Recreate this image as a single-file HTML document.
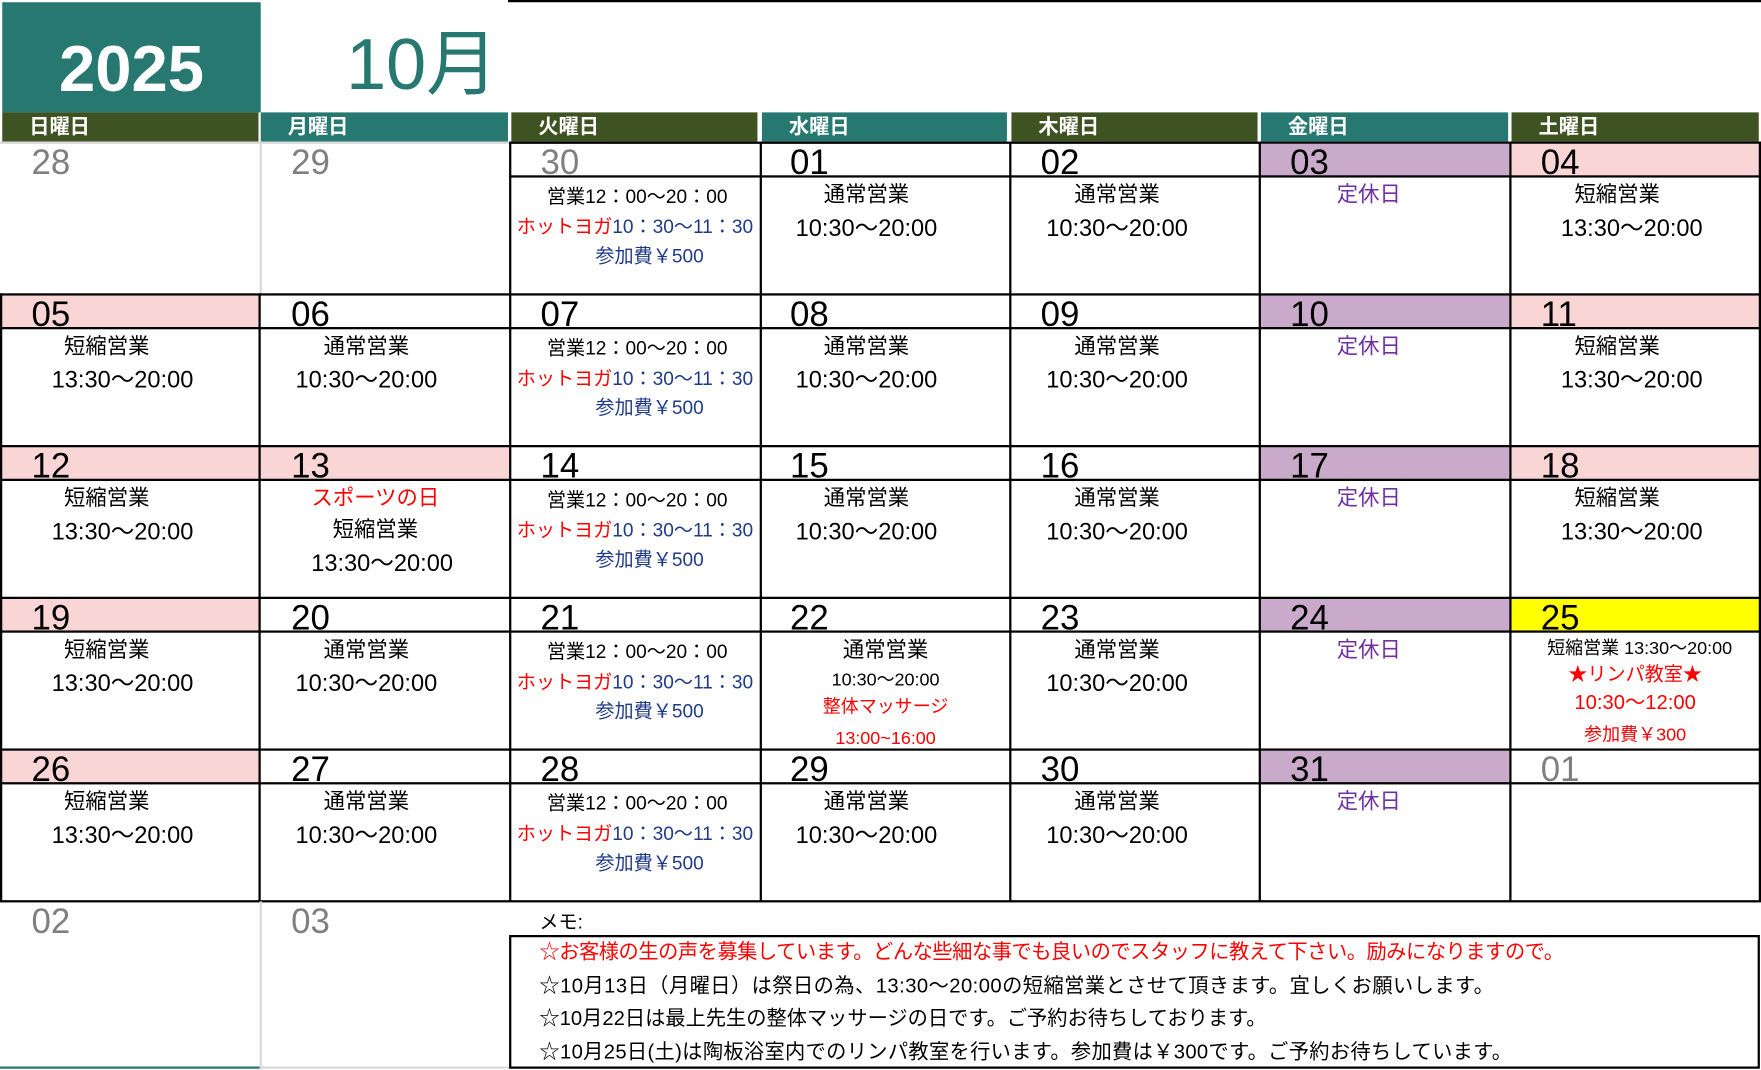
<!DOCTYPE html>
<html><head><meta charset="utf-8">
<style>
html,body{margin:0;padding:0;background:#fff;overflow:hidden}
#w{position:absolute;left:0;top:0;width:1567px;height:952px;transform:scale(1.12381);transform-origin:0 0;font-family:"Liberation Sans","Noto Sans CJK JP",sans-serif}
.a{position:absolute}
.t{position:absolute;transform:translate(-50%,-50%);white-space:nowrap;font-size:19px;color:#000}
.n{font-size:21px}
.s{font-size:17px}
.r{color:#f00}.b{color:#1f3a8a}.p{color:#7030a0}
.d{position:absolute;font-size:31px;line-height:30px;color:#000}
.g{color:#7f7f7f}
.h{position:absolute;top:100px;height:26px;color:#fff;font-weight:bold;font-size:18px;line-height:26px;padding-left:24px;box-sizing:border-box}
.ol{background:#3f5322}.tl{background:#267871}
.vl{position:absolute;width:2px;background:#000}
.hl{position:absolute;height:2px;background:#000}
</style></head><body><div id="w">
<div class="a" style="left:2px;top:2px;width:230px;height:98px;background:#267871"></div>
<div class="a" style="left:2px;top:30px;width:230px;text-align:center;color:#fff;font-weight:bold;font-size:58px;line-height:64px">2025</div>
<div class="a" style="left:308px;top:22px;color:#267871;font-size:64px;line-height:70px">10月</div>
<div class="hl" style="left:452px;top:0;width:1115px"></div>
<div class="h ol" style="left:2px;width:228px">日曜日</div>
<div class="h tl" style="left:232px;width:220px">月曜日</div>
<div class="h ol" style="left:455px;width:219px">火曜日</div>
<div class="h tl" style="left:678px;width:218px">水曜日</div>
<div class="h ol" style="left:900px;width:219px">木曜日</div>
<div class="h tl" style="left:1122px;width:220px">金曜日</div>
<div class="h ol" style="left:1345px;width:220px">土曜日</div>
<div class="a" style="left:0;top:126px;width:454px;height:2px;background:#d9d9d9"></div>
<div class="hl" style="left:454px;top:126px;width:1113px"></div>

<div class="a" style="left:1122px;top:128px;width:221px;height:29px;background:#c9aacb"></div>
<div class="a" style="left:1345px;top:128px;width:221px;height:29px;background:#f9d6d5"></div>
<div class="a" style="left:1px;top:263px;width:230px;height:29px;background:#f9d6d5"></div>
<div class="a" style="left:1122px;top:263px;width:221px;height:29px;background:#c9aacb"></div>
<div class="a" style="left:1345px;top:263px;width:221px;height:29px;background:#f9d6d5"></div>
<div class="a" style="left:1px;top:398px;width:230px;height:29px;background:#f9d6d5"></div>
<div class="a" style="left:232px;top:398px;width:222px;height:29px;background:#f9d6d5"></div>
<div class="a" style="left:1122px;top:398px;width:221px;height:29px;background:#c9aacb"></div>
<div class="a" style="left:1345px;top:398px;width:221px;height:29px;background:#f9d6d5"></div>
<div class="a" style="left:1px;top:533px;width:230px;height:29px;background:#f9d6d5"></div>
<div class="a" style="left:1122px;top:533px;width:221px;height:29px;background:#c9aacb"></div>
<div class="a" style="left:1345px;top:533px;width:221px;height:29px;background:#ffff00"></div>
<div class="a" style="left:1px;top:668px;width:230px;height:29px;background:#f9d6d5"></div>
<div class="a" style="left:1122px;top:668px;width:221px;height:29px;background:#c9aacb"></div>

<div class="a" style="left:231px;top:127px;width:2px;height:135px;background:#d9d9d9"></div>
<div class="vl" style="left:453px;top:126px;height:676px"></div>
<div class="vl" style="left:676px;top:126px;height:676px"></div>
<div class="vl" style="left:898px;top:126px;height:676px"></div>
<div class="vl" style="left:1120px;top:126px;height:676px"></div>
<div class="vl" style="left:1343px;top:126px;height:676px"></div>
<div class="vl" style="left:1565px;top:126px;height:676px"></div>
<div class="vl" style="left:0px;top:261px;height:541px"></div>
<div class="vl" style="left:230px;top:261px;height:541px"></div>
<div class="hl" style="left:453px;top:156px;width:1114px"></div>
<div class="hl" style="left:0;top:261px;width:1567px"></div>
<div class="hl" style="left:0;top:291px;width:1567px"></div>
<div class="hl" style="left:0;top:396px;width:1567px"></div>
<div class="hl" style="left:0;top:426px;width:1567px"></div>
<div class="hl" style="left:0;top:531px;width:1567px"></div>
<div class="hl" style="left:0;top:561px;width:1567px"></div>
<div class="hl" style="left:0;top:666px;width:1567px"></div>
<div class="hl" style="left:0;top:696px;width:1567px"></div>
<div class="hl" style="left:0;top:801px;width:1567px"></div>
<div class="a" style="left:0;top:949px;width:231px;height:2px;background:#267871"></div>
<div class="a" style="left:231px;top:802px;width:2px;height:150px;background:#d9d9d9"></div>
<div class="a" style="left:232px;top:949px;width:222px;height:2px;background:#d9d9d9"></div>

<div class="d g" style="left:28px;top:130px">28</div><div class="d g" style="left:259px;top:130px">29</div><div class="d g" style="left:481px;top:130px">30</div><div class="d" style="left:703px;top:130px">01</div><div class="d" style="left:926px;top:130px">02</div><div class="d" style="left:1148px;top:130px">03</div><div class="d" style="left:1371px;top:130px">04</div>
<div class="d" style="left:28px;top:265px">05</div><div class="d" style="left:259px;top:265px">06</div><div class="d" style="left:481px;top:265px">07</div><div class="d" style="left:703px;top:265px">08</div><div class="d" style="left:926px;top:265px">09</div><div class="d" style="left:1148px;top:265px">10</div><div class="d" style="left:1371px;top:265px">11</div>
<div class="d" style="left:28px;top:400px">12</div><div class="d" style="left:259px;top:400px">13</div><div class="d" style="left:481px;top:400px">14</div><div class="d" style="left:703px;top:400px">15</div><div class="d" style="left:926px;top:400px">16</div><div class="d" style="left:1148px;top:400px">17</div><div class="d" style="left:1371px;top:400px">18</div>
<div class="d" style="left:28px;top:535px">19</div><div class="d" style="left:259px;top:535px">20</div><div class="d" style="left:481px;top:535px">21</div><div class="d" style="left:703px;top:535px">22</div><div class="d" style="left:926px;top:535px">23</div><div class="d" style="left:1148px;top:535px">24</div><div class="d" style="left:1371px;top:535px">25</div>
<div class="d" style="left:28px;top:670px">26</div><div class="d" style="left:259px;top:670px">27</div><div class="d" style="left:481px;top:670px">28</div><div class="d" style="left:703px;top:670px">29</div><div class="d" style="left:926px;top:670px">30</div><div class="d" style="left:1148px;top:670px">31</div><div class="d g" style="left:1371px;top:670px">01</div>
<div class="d g" style="left:28px;top:805px">02</div><div class="d g" style="left:259px;top:805px">03</div>

<div class="t s" style="left:567px;top:173px">営業12：00～20：00</div><div class="t s" style="left:565px;top:200px"><span class="r">ホットヨガ</span><span class="b">10：30～11：30</span></div><div class="t s b" style="left:578px;top:226px">参加費￥500</div>
<div class="t" style="left:771px;top:172px">通常営業</div><div class="t n" style="left:771px;top:202px">10:30～20:00</div>
<div class="t" style="left:994px;top:172px">通常営業</div><div class="t n" style="left:994px;top:202px">10:30～20:00</div>
<div class="t p" style="left:1218px;top:172px">定休日</div>
<div class="t" style="left:1439px;top:172px">短縮営業</div><div class="t n" style="left:1452px;top:202px">13:30～20:00</div>

<div class="t" style="left:95px;top:307px">短縮営業</div><div class="t n" style="left:109px;top:337px">13:30～20:00</div>
<div class="t" style="left:326px;top:307px">通常営業</div><div class="t n" style="left:326px;top:337px">10:30～20:00</div>
<div class="t s" style="left:567px;top:308px">営業12：00～20：00</div><div class="t s" style="left:565px;top:335px"><span class="r">ホットヨガ</span><span class="b">10：30～11：30</span></div><div class="t s b" style="left:578px;top:361px">参加費￥500</div>
<div class="t" style="left:771px;top:307px">通常営業</div><div class="t n" style="left:771px;top:337px">10:30～20:00</div>
<div class="t" style="left:994px;top:307px">通常営業</div><div class="t n" style="left:994px;top:337px">10:30～20:00</div>
<div class="t p" style="left:1218px;top:307px">定休日</div>
<div class="t" style="left:1439px;top:307px">短縮営業</div><div class="t n" style="left:1452px;top:337px">13:30～20:00</div>

<div class="t" style="left:95px;top:442px">短縮営業</div><div class="t n" style="left:109px;top:472px">13:30～20:00</div>
<div class="t r" style="left:334px;top:442px">スポーツの日</div><div class="t" style="left:334px;top:470px">短縮営業</div><div class="t n" style="left:340px;top:500px">13:30～20:00</div>
<div class="t s" style="left:567px;top:443px">営業12：00～20：00</div><div class="t s" style="left:565px;top:470px"><span class="r">ホットヨガ</span><span class="b">10：30～11：30</span></div><div class="t s b" style="left:578px;top:496px">参加費￥500</div>
<div class="t" style="left:771px;top:442px">通常営業</div><div class="t n" style="left:771px;top:472px">10:30～20:00</div>
<div class="t" style="left:994px;top:442px">通常営業</div><div class="t n" style="left:994px;top:472px">10:30～20:00</div>
<div class="t p" style="left:1218px;top:442px">定休日</div>
<div class="t" style="left:1439px;top:442px">短縮営業</div><div class="t n" style="left:1452px;top:472px">13:30～20:00</div>

<div class="t" style="left:95px;top:577px">短縮営業</div><div class="t n" style="left:109px;top:607px">13:30～20:00</div>
<div class="t" style="left:326px;top:577px">通常営業</div><div class="t n" style="left:326px;top:607px">10:30～20:00</div>
<div class="t s" style="left:567px;top:578px">営業12：00～20：00</div><div class="t s" style="left:565px;top:605px"><span class="r">ホットヨガ</span><span class="b">10：30～11：30</span></div><div class="t s b" style="left:578px;top:631px">参加費￥500</div>
<div class="t" style="left:788px;top:577px">通常営業</div><div class="t" style="left:788px;top:603px;font-size:16px">10:30～20:00</div><div class="t r" style="left:788px;top:627px;font-size:16px">整体マッサージ</div><div class="t r" style="left:788px;top:658px;font-size:16px">13:00~16:00</div>
<div class="t" style="left:994px;top:577px">通常営業</div><div class="t n" style="left:994px;top:607px">10:30～20:00</div>
<div class="t p" style="left:1218px;top:577px">定休日</div>
<div class="t" style="left:1459px;top:575px;font-size:16px">短縮営業 13:30～20:00</div><div class="t r s" style="left:1455px;top:598px">★リンパ教室★</div><div class="t r" style="left:1455px;top:624px;font-size:18px">10:30～12:00</div><div class="t r" style="left:1455px;top:652px;font-size:16px">参加費￥300</div>

<div class="t" style="left:95px;top:712px">短縮営業</div><div class="t n" style="left:109px;top:742px">13:30～20:00</div>
<div class="t" style="left:326px;top:712px">通常営業</div><div class="t n" style="left:326px;top:742px">10:30～20:00</div>
<div class="t s" style="left:567px;top:713px">営業12：00～20：00</div><div class="t s" style="left:565px;top:740px"><span class="r">ホットヨガ</span><span class="b">10：30～11：30</span></div><div class="t s b" style="left:578px;top:766px">参加費￥500</div>
<div class="t" style="left:771px;top:712px">通常営業</div><div class="t n" style="left:771px;top:742px">10:30～20:00</div>
<div class="t" style="left:994px;top:712px">通常営業</div><div class="t n" style="left:994px;top:742px">10:30～20:00</div>
<div class="t p" style="left:1218px;top:712px">定休日</div>

<div class="a" style="left:480px;top:806px;font-size:17px">メモ:</div>
<div class="a" style="left:453px;top:832px;width:1113px;height:119px;border:2px solid #000;box-sizing:border-box"></div>
<div class="a" style="left:480px;top:833px;font-size:18px;line-height:29.5px;white-space:nowrap">
<div class="r" style="letter-spacing:-0.4px">☆お客様の生の声を募集しています。どんな些細な事でも良いのでスタッフに教えて下さい。励みになりますので。</div>
<div style="letter-spacing:0.4px">☆10月13日（月曜日）は祭日の為、13:30～20:00の短縮営業とさせて頂きます。宜しくお願いします。</div>
<div>☆10月22日は最上先生の整体マッサージの日です。ご予約お待ちしております。</div>
<div style="letter-spacing:0.3px">☆10月25日(土)は陶板浴室内でのリンパ教室を行います。参加費は￥300です。ご予約お待ちしています。</div>
</div>
</div></body></html>
